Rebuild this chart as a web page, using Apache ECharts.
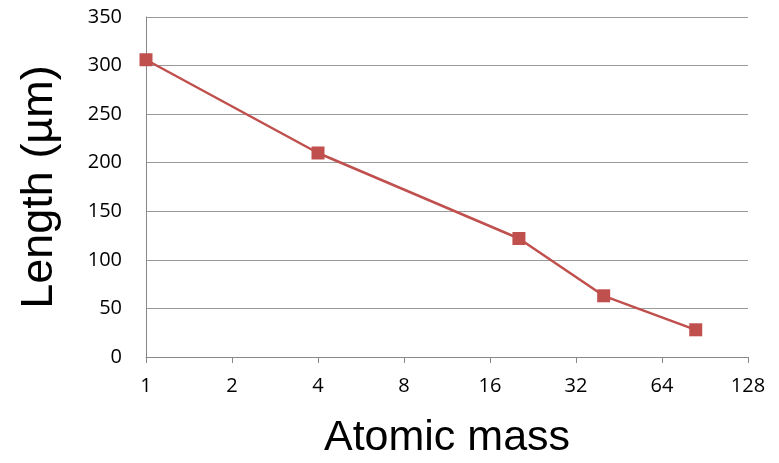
<!DOCTYPE html>
<html><head><meta charset="utf-8">
<script src="https://cdn.jsdelivr.net/npm/echarts@6/dist/echarts.min.js"></script>
<style>html,body{margin:0;padding:0;background:#fff}#c{width:779px;height:463px}</style>
</head><body><div id="c"></div>
<script>
const atomicMass = [1, 4, 20.2, 40, 84];
const lengthUm = [306, 210, 122, 63, 28];
const xTicks = [1, 2, 4, 8, 16, 32, 64, 128];
const yTicks = [0, 50, 100, 150, 200, 250, 300, 350];

const chart = echarts.init(document.getElementById('c'), null, {renderer: 'canvas'});
const tickFont = {fontFamily: '"Open Sans", "Noto Sans", sans-serif', fontSize: 20, color: '#000'};
chart.setOption({
  animation: false,
  grid: {left: 146, right: 31, top: 17, bottom: 106, containLabel: false, outerBoundsMode: 'none'},
  xAxis: {
    type: 'log', logBase: 2, min: xTicks[0], max: xTicks[xTicks.length - 1],
    name: 'Atomic mass', nameLocation: 'middle', nameGap: 60,
    nameTextStyle: {fontFamily: '"Liberation Sans", Arial, sans-serif', fontSize: 43, color: '#000'},
    axisLine: {show: true, lineStyle: {color: '#888', width: 1}},
    axisTick: {show: true, length: 6, lineStyle: {color: '#888'}},
    axisLabel: Object.assign({margin: 19, formatter: v => String(Math.round(v))}, tickFont),
    splitLine: {show: false}, minorTick: {show: false}
  },
  yAxis: {
    type: 'value', min: yTicks[0], max: yTicks[yTicks.length - 1], interval: 50,
    name: 'Length (µm)', nameLocation: 'middle', nameGap: 84,
    nameTextStyle: {fontFamily: '"Liberation Sans", Arial, sans-serif', fontSize: 45, color: '#000'},
    axisLine: {show: true, lineStyle: {color: '#888', width: 1}},
    axisTick: {show: false},
    axisLabel: Object.assign({margin: 24}, tickFont),
    splitLine: {show: true, lineStyle: {color: '#999', width: 1}}
  },
  series: [{
    type: 'line',
    data: atomicMass.map((x, i) => [x, lengthUm[i]]),
    symbol: 'rect', symbolSize: 13,
    itemStyle: {color: '#C0504D'},
    lineStyle: {color: '#C0504D', width: 2.5}
  }]
});
</script></body></html>
